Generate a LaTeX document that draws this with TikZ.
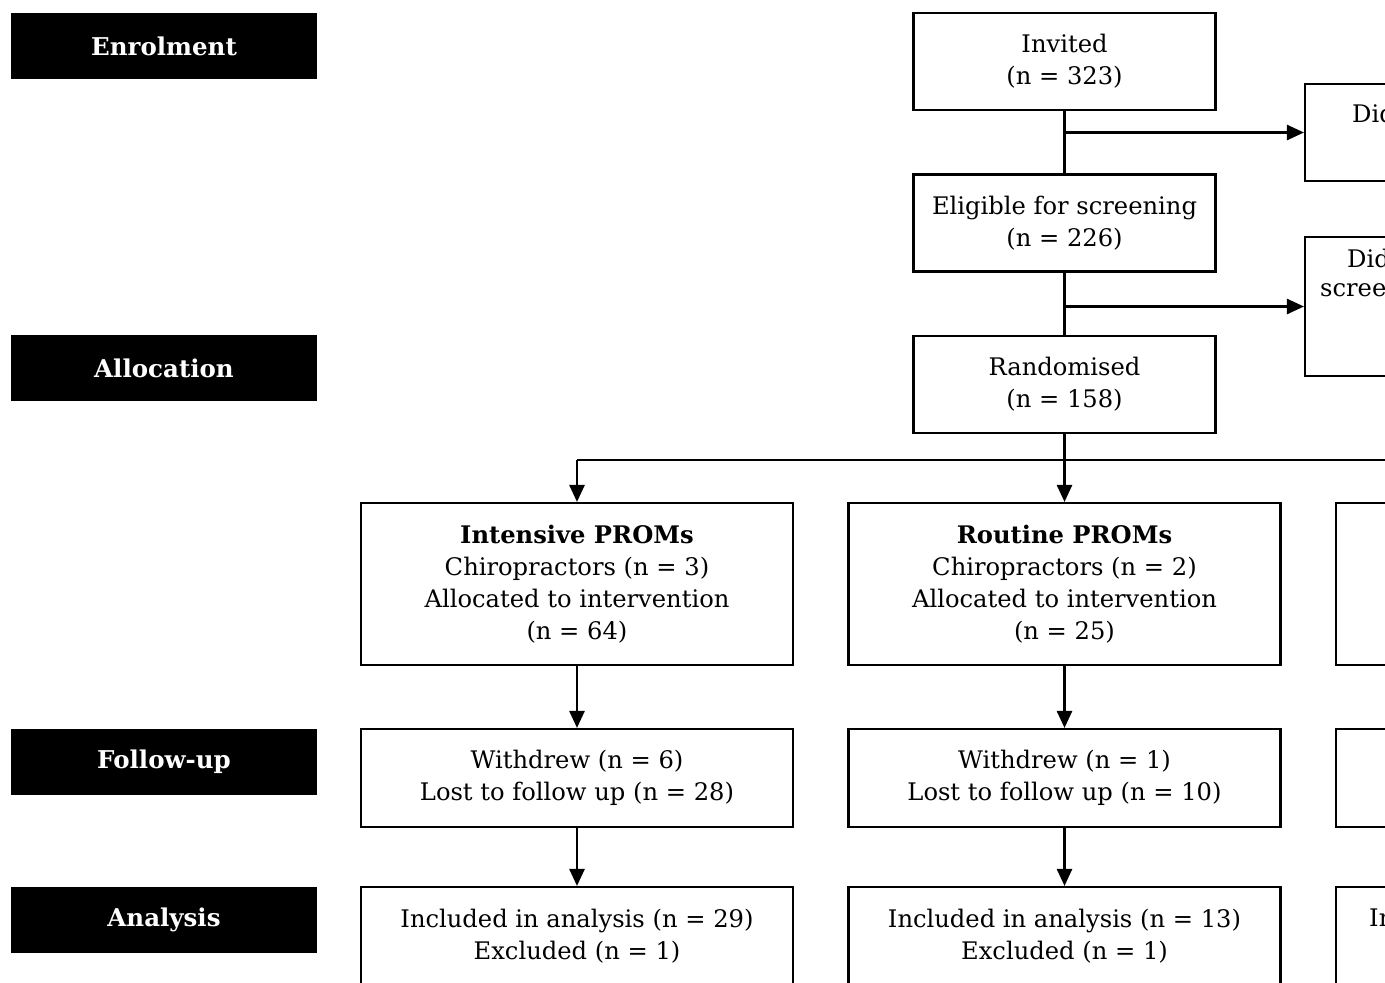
\documentclass[tikz,border=0pt]{standalone}
\usepackage{fontspec}
\setmainfont{DejaVu Serif}
\usetikzlibrary{arrows.meta}
\begin{document}
\begin{tikzpicture}[x=1pt,y=-1pt,
  stagebox/.style={fill=black, text=white, inner sep=0pt,
    minimum width=306pt, minimum height=66pt,
    font=\bfseries\fontsize{24.5}{28}\selectfont},
  flowbox/.style={draw=black, line width=2.1pt, align=center, inner sep=0pt,
    font=\fontsize{24.2}{32}\selectfont},
  smallbox/.style={flowbox, minimum width=302pt, minimum height=97pt},
  armbox/.style={flowbox, minimum width=432pt},
  cuttext/.style={anchor=west, inner sep=0pt, font=\fontsize{24.2}{32}\selectfont},
  link/.style={line width=2.6pt},
  arr/.style={link, -{Triangle[length=17pt,width=15pt]}}
]
\useasboundingbox (0,0) rectangle (1385,983);
\clip (0,0) rectangle (1385,983);
\fill[white] (0,0) rectangle (1385,983);

% stage labels down the left side
\node[stagebox] (enr) at (164,46)  {Enrolment};
\node[stagebox] (alc) at (164,368) {Allocation};
\node[stagebox] (fol) at (164,762) {Follow-up};
\node[stagebox] (ana) at (164,920) {Analysis};

% enrolment column
\node[smallbox] (inv) at (1064.5,61.5) {Invited\\(n = 323)};
\node[smallbox] (eli) at (1064.5,223)  {Eligible for screening\\(n = 226)};
\node[smallbox] (ran) at (1064.5,384.5){Randomised\\(n = 158)};

% exclusion boxes on the right
\node[flowbox, minimum width=302pt, minimum height=97pt] (ex1) at (1456,132.5) {};
\node[flowbox, minimum width=302pt, minimum height=139pt] (ex2) at (1456,306.5) {};
\node[cuttext] (ex1t) at (1352,116) {Did not respond};
\node[cuttext] (ex2a) at (1347,258) {Did not meet};
\node[cuttext] (ex2b) at (1320,290) {screening criteria};

% allocation arms
\node[armbox, minimum height=162pt] (int) at (577,584)
  {\textbf{Intensive PROMs}\\Chiropractors (n = 3)\\Allocated to intervention\\(n = 64)};
\node[armbox, minimum height=162pt] (rou) at (1064.5,584)
  {\textbf{Routine PROMs}\\Chiropractors (n = 2)\\Allocated to intervention\\(n = 25)};
\node[armbox, minimum height=162pt] (thr) at (1552,584) {};

% follow-up
\node[armbox, minimum height=98pt] (intf) at (577,778)
  {Withdrew (n = 6)\\Lost to follow up (n = 28)};
\node[armbox, minimum height=98pt] (rouf) at (1064.5,778)
  {Withdrew (n = 1)\\Lost to follow up (n = 10)};
\node[armbox, minimum height=98pt] (thrf) at (1552,778) {};

% analysis
\node[armbox, minimum height=98pt] (inta) at (577,936)
  {Included in analysis (n = 29)\\Excluded (n = 1)};
\node[armbox, minimum height=98pt] (roua) at (1064.5,936)
  {Included in analysis (n = 13)\\Excluded (n = 1)};
\node[armbox, minimum height=98pt] (thra) at (1552,936) {};
\node[cuttext] (thrat) at (1369,920) {Included in analysis};

% enrolment connectors
\draw[link] (inv.south) -- (eli.north);
\draw[arr] (inv.south |- ex1.west) -- (ex1.west);
\draw[link] (eli.south) -- (ran.north);
\draw[arr] (eli.south |- ex2.west) -- (ex2.west);

% randomisation fork
\coordinate (fork) at (1064.5,460);
\draw[link] (ran.south) -- (fork);
\draw[link] (fork -| int.north) -- (fork -| thr.north);
\draw[arr] (fork -| int.north) -- (int.north);
\draw[arr] (fork) -- (rou.north);
\draw[arr] (fork -| thr.north) -- (thr.north);

% down each arm
\draw[arr] (int.south) -- (intf.north);
\draw[arr] (rou.south) -- (rouf.north);
\draw[arr] (thr.south) -- (thrf.north);
\draw[arr] (intf.south) -- (inta.north);
\draw[arr] (rouf.south) -- (roua.north);
\draw[arr] (thrf.south) -- (thra.north);
\end{tikzpicture}
\end{document}
